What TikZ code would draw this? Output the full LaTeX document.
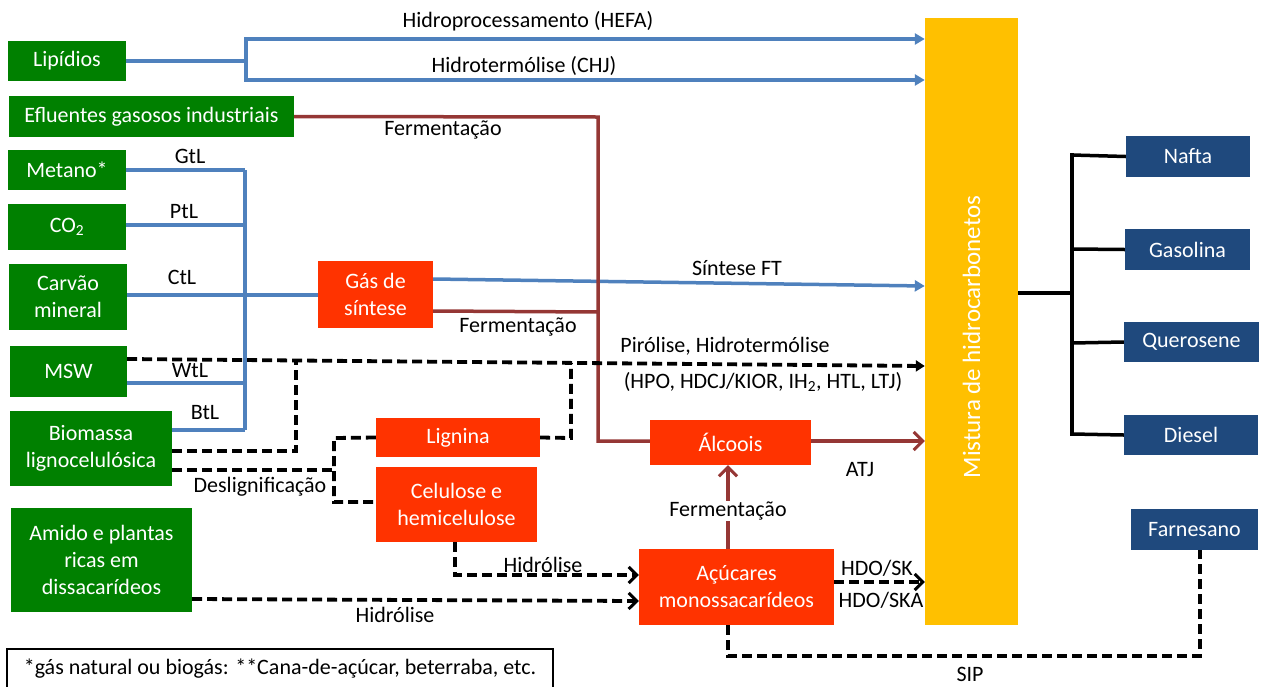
\documentclass[tikz,border=0pt]{standalone}
\usepackage{fontspec}
\setmainfont{Carlito}
\usetikzlibrary{arrows.meta}
\definecolor{gr}{RGB}{0,128,0}
\definecolor{orr}{RGB}{255,51,0}
\definecolor{yel}{RGB}{255,192,0}
\definecolor{navy}{RGB}{31,73,125}
\definecolor{bluel}{RGB}{79,129,189}
\definecolor{redl}{RGB}{149,55,53}
\begin{document}
\begin{tikzpicture}[x=1pt,y=-1pt,
  box/.style={inner sep=0pt, text=white, align=center, font=\fontsize{22}{27}\selectfont},
  gbox/.style={box, fill=gr},
  rbox/.style={box, fill=orr},
  nbox/.style={box, fill=navy},
  lbl/.style={inner sep=1pt, font=\fontsize{22}{26}\selectfont},
  bl/.style={draw=bluel, line width=3.5pt},
  rd/.style={draw=redl, line width=3.5pt},
  dsh/.style={draw=black, line width=3.8pt, dash pattern=on 10pt off 5pt},
  bk/.style={draw=black, line width=3.5pt},
  barr/.style={-{Triangle[length=10pt,width=11pt]}},
  rarr/.style={-{Straight Barb[length=9pt,width=18pt,line width=3pt]}},
  karr/.style={-{Straight Barb[length=8pt,width=16pt,line width=3pt]}},
  ktri/.style={-{Triangle[length=9pt,width=11pt]}}
]
\useasboundingbox (0,0) rectangle (1264,686);

% green sources
\node[gbox, minimum width=118pt, minimum height=40pt] (lip) at (67,61) {Lipídios};
\node[gbox, minimum width=285pt, minimum height=41pt] (eflu) at (151.5,116.5) {Efluentes gasosos industriais};
\node[gbox, minimum width=118pt, minimum height=40pt] (met) at (67,170) {Metano*};
\node[gbox, minimum width=118pt, minimum height=46pt] (co2) at (67,227) {CO\textsubscript{2}};
\node[gbox, minimum width=118pt, minimum height=66pt] (carv) at (68,297) {Carvão\\mineral};
\node[gbox, minimum width=117pt, minimum height=51pt] (msw) at (68.5,371.5) {MSW};
\node[gbox, minimum width=162pt, minimum height=75pt] (bio) at (91,448.5) {Biomassa\\lignocelulósica};
\node[gbox, minimum width=181pt, minimum height=104pt] (amido) at (101.5,560) {Amido e plantas\\ricas em\\dissacarídeos};

% red intermediates
\node[rbox, minimum width=115pt, minimum height=67pt] (gas) at (375.5,294.5) {Gás de\\síntese};
\node[rbox, minimum width=164pt, minimum height=39pt] (lig) at (458,437.5) {Lignina};
\node[rbox, minimum width=161pt, minimum height=75pt] (cel) at (456.5,504.5) {Celulose e\\hemicelulose};
\node[rbox, minimum width=161pt, minimum height=45pt] (alc) at (730.5,442.5) {Álcoois};
\node[rbox, minimum width=195pt, minimum height=76pt] (acu) at (736.5,587) {Açúcares\\monossacarídeos};

% yellow bar
\node[fill=yel, inner sep=0pt, minimum width=93pt, minimum height=607pt] (bar) at (971.5,321.5) {};
\node[rotate=90, text=white, inner sep=0pt, font=\fontsize{25}{29}\selectfont] (barlbl) at (971.5,337) {Mistura de hidrocarbonetos};

% products
\node[nbox, minimum width=124pt, minimum height=41pt] (naf) at (1188,156.5) {Nafta};
\node[nbox, minimum width=125pt, minimum height=41pt] (gsl) at (1187.5,249.5) {Gasolina};
\node[nbox, minimum width=135pt, minimum height=40pt] (qer) at (1191.5,342) {Querosene};
\node[nbox, minimum width=134pt, minimum height=40pt] (dsl) at (1191,435) {Diesel};
\node[nbox, minimum width=127pt, minimum height=41pt] (far) at (1194.5,529.5) {Farnesano};

% footnote
\node[draw=black, line width=1.5pt, inner sep=0pt, minimum width=546pt, minimum height=40pt, font=\fontsize{22}{26}\selectfont] (foot) at (280,669) {*gás natural ou biogás: **Cana-de-açúcar, beterraba, etc.};

% product tree
\coordinate (tj) at (1072,293);
\draw[bk] (bar.east |- tj) -- (tj);
\draw[bk, line cap=rect] (1072,155) -- (1072,434);
\draw[bk] (1072,155) -- (naf.west);
\draw[bk] (1072,249) -- (gsl.west);
\draw[bk] (1072,343) -- (qer.west);
\draw[bk] (1072,434) -- (dsl.west);

% lipids
\coordinate (jl) at (246,61);
\draw[bl] (lip.east) -- (jl);
\draw[bl, barr] (jl) |- (bar.west |- 0,39);
\draw[bl, barr] (jl) |- (bar.west |- 0,80);
\node[lbl] (lhefa) at (528,21) {Hidroprocessamento (HEFA)};
\node[lbl] (lchj) at (524,66) {Hidrotermólise (CHJ)};

% xtL tree
\coordinate (vt) at (245,170);
\coordinate (vb) at (245,430);
\draw[bl] (vt) -- (vb);
\draw[bl] (met.east) -- (vt);
\draw[bl] (co2.east |- 0,225) -- (vt |- 0,225);
\draw[bl] (carv.east |- 0,295) -- (gas.west |- 0,295);
\draw[bl] (msw.east |- 0,383) -- (vt |- 0,383);
\draw[bl] (bio.east |- vb) -- (vb);
\node[lbl] (lgtl) at (190,156) {GtL};
\node[lbl] (lptl) at (184,212) {PtL};
\node[lbl] (lctl) at (182,277) {CtL};
\node[lbl] (lwtl) at (190,371) {WtL};
\node[lbl] (lbtl) at (205,413) {BtL};

% syngas FT
\draw[bl, barr] (gas.east |- 0,279) -- (bar.west |- 0,286);
\node[lbl] (lft) at (737,268) {Síntese FT};

% red fermentation paths
\draw[rd, line join=miter] (eflu.east) -- (598,117) -- (598,441) -- (alc.west |- 0,441);
\draw[rd] (gas.east |- 0,311) -- (598,312);
\draw[rd, rarr] (alc.east |- 0,441) -- (bar.west |- 0,441);
\node[lbl] (lfe1) at (443,130) {Fermentação};
\node[lbl] (lfe2) at (518,327) {Fermentação};
\node[lbl] (latj) at (860,470) {ATJ};
\draw[rd, rarr] (acu.north -| 728,0) -- node[lbl, fill=white, pos=0.45] (lfe3) {Fermentação} (alc.south -| 728,0);

% pyrolysis
\draw[dsh, ktri] (msw.east |- 0,359) -- (bar.west |- 0,366);
\draw[dsh] (bio.east |- 0,451) -- (296,451) -- (296,362);
\draw[dsh] (lig.east) -- (571,438) -- (571,363);
\node[lbl] (lpir) at (725,346) {Pirólise, Hidrotermólise};
\node[lbl] (lhpo) at (763,382) {(HPO, HDCJ/KIOR, IH\textsubscript{2}, HTL, LTJ)};

% delignification
\draw[dsh] (bio.east |- 0,470) -- (334,470);
\draw[dsh] (lig.west) -- (334,438) -- (334,502) -- (cel.west |- 0,502);
\node[lbl] (ldes) at (260,487) {Deslignificação};

% hydrolysis
\draw[dsh, karr] (455,542) -- (455,575) -- (acu.west |- 0,575);
\draw[dsh, karr] (amido.east |- 0,599) -- (acu.west |- 0,601);
\node[lbl] (lhid1) at (543,565) {Hidrólise};
\node[lbl] (lhid2) at (395,615) {Hidrólise};

% HDO
\draw[dsh, karr] (acu.east |- 0,582) -- (bar.west |- 0,582);
\node[lbl] (lsk) at (877,568) {HDO/SK};
\node[lbl] (lska) at (881,600) {HDO/SKA};

% SIP
\draw[dsh] (acu.south -| 728,0) -- (728,656) -- (1200,656) -- (far.south -| 1200,0);
\node[lbl] (lsip) at (970,674) {SIP};
\end{tikzpicture}
\end{document}
